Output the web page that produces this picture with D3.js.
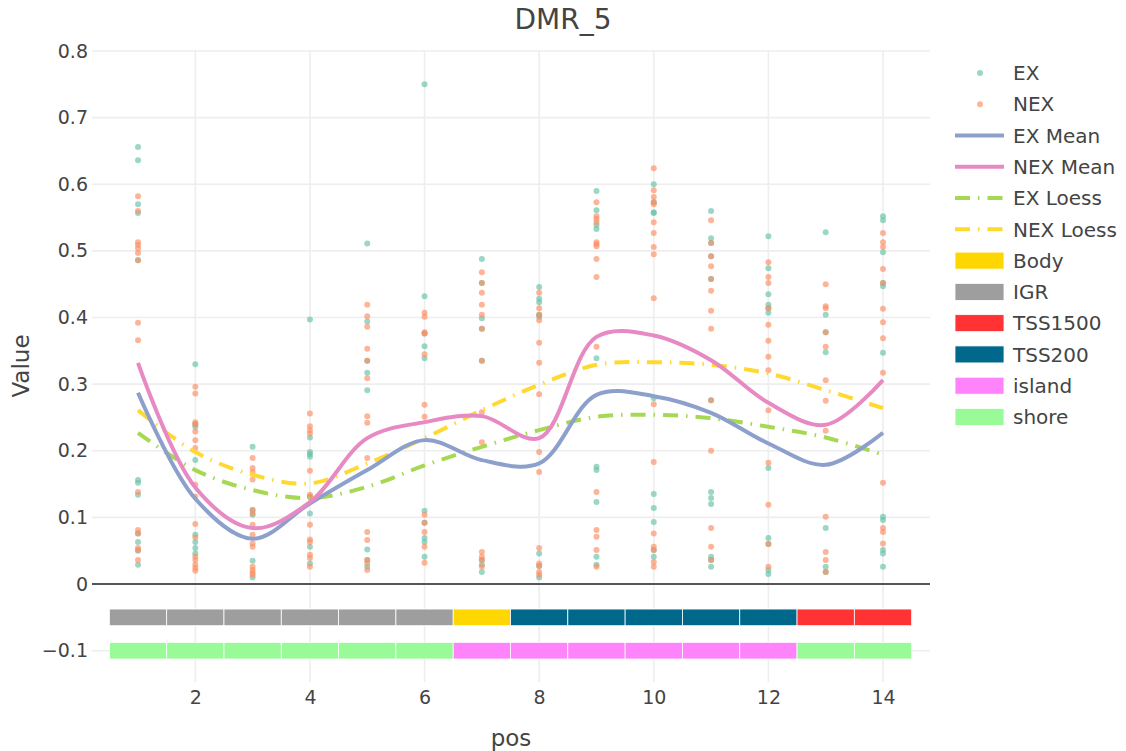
<!DOCTYPE html>
<html>
<head>
<meta charset="utf-8">
<script src="https://cdn.jsdelivr.net/npm/d3@7"></script>
<style>
  body { margin: 0; background: #fff; }
  text { font-family: "DejaVu Sans", Verdana, sans-serif; fill: #444; }
</style>
</head>
<body>
<div id="chart"></div>
<script>
var positions = [1, 2, 3, 4, 5, 6, 7, 8, 9, 10, 11, 12, 13, 14];

// sample values per position
var exValues = [
  [0.656, 0.636, 0.570, 0.557, 0.486, 0.156, 0.152, 0.134, 0.076, 0.063, 0.050, 0.029],
  [0.330, 0.240, 0.236, 0.186, 0.074, 0.063, 0.054, 0.046],
  [0.206, 0.111, 0.104, 0.035, 0.010],
  [0.397, 0.220, 0.198, 0.195, 0.191, 0.131, 0.106, 0.056, 0.031],
  [0.511, 0.394, 0.335, 0.317, 0.291, 0.052, 0.036, 0.026],
  [0.750, 0.432, 0.376, 0.357, 0.339, 0.110, 0.092, 0.069, 0.063, 0.041],
  [0.488, 0.452, 0.399, 0.383, 0.335, 0.036, 0.029, 0.018],
  [0.446, 0.428, 0.423, 0.404, 0.401, 0.046, 0.027, 0.010],
  [0.590, 0.561, 0.539, 0.533, 0.339, 0.176, 0.171, 0.123, 0.041, 0.029],
  [0.600, 0.573, 0.558, 0.557, 0.279, 0.135, 0.114, 0.093, 0.051, 0.041],
  [0.560, 0.519, 0.512, 0.492, 0.458, 0.276, 0.138, 0.129, 0.120, 0.041, 0.036, 0.026],
  [0.522, 0.474, 0.435, 0.419, 0.414, 0.407, 0.174, 0.069, 0.060, 0.021, 0.015],
  [0.528, 0.404, 0.378, 0.348, 0.084, 0.026, 0.018],
  [0.552, 0.546, 0.498, 0.452, 0.447, 0.347, 0.101, 0.096, 0.051, 0.046, 0.026]
];
var nexValues = [
  [0.582, 0.560, 0.513, 0.509, 0.504, 0.497, 0.486, 0.392, 0.366, 0.138, 0.081, 0.076, 0.054, 0.051, 0.036],
  [0.296, 0.286, 0.243, 0.240, 0.229, 0.216, 0.204, 0.149, 0.131, 0.090, 0.070, 0.041, 0.036, 0.029, 0.024, 0.020],
  [0.189, 0.174, 0.168, 0.157, 0.111, 0.106, 0.089, 0.074, 0.061, 0.056, 0.026, 0.021, 0.017, 0.014],
  [0.256, 0.237, 0.231, 0.226, 0.170, 0.134, 0.131, 0.089, 0.067, 0.063, 0.044, 0.039, 0.026],
  [0.419, 0.402, 0.386, 0.353, 0.335, 0.309, 0.252, 0.242, 0.189, 0.078, 0.066, 0.036, 0.031, 0.021],
  [0.407, 0.401, 0.378, 0.376, 0.345, 0.269, 0.251, 0.104, 0.092, 0.078, 0.056, 0.032],
  [0.468, 0.452, 0.437, 0.419, 0.404, 0.383, 0.335, 0.258, 0.213, 0.048, 0.041, 0.036, 0.026],
  [0.437, 0.414, 0.404, 0.396, 0.362, 0.332, 0.285, 0.198, 0.168, 0.054, 0.031, 0.027, 0.018, 0.014],
  [0.573, 0.552, 0.548, 0.543, 0.513, 0.510, 0.507, 0.488, 0.461, 0.356, 0.138, 0.081, 0.071, 0.051, 0.026],
  [0.624, 0.591, 0.581, 0.573, 0.570, 0.543, 0.527, 0.506, 0.495, 0.429, 0.270, 0.183, 0.076, 0.056, 0.051, 0.033, 0.026],
  [0.546, 0.512, 0.492, 0.477, 0.458, 0.440, 0.410, 0.383, 0.276, 0.200, 0.084, 0.056, 0.036],
  [0.483, 0.461, 0.452, 0.414, 0.389, 0.365, 0.341, 0.321, 0.261, 0.182, 0.119, 0.060, 0.026],
  [0.450, 0.417, 0.414, 0.378, 0.356, 0.306, 0.275, 0.230, 0.101, 0.048, 0.036, 0.018],
  [0.527, 0.513, 0.506, 0.473, 0.452, 0.413, 0.393, 0.369, 0.317, 0.152, 0.084, 0.078, 0.061]
];

var exMean = [0.287, 0.128, 0.068, 0.121, 0.171, 0.216, 0.186, 0.181, 0.284, 0.282, 0.257, 0.211, 0.179, 0.227];
var nexMean = [0.332, 0.145, 0.084, 0.123, 0.219, 0.243, 0.252, 0.219, 0.371, 0.373, 0.336, 0.272, 0.239, 0.306];
var exLoess = [0.227, 0.171, 0.141, 0.129, 0.146, 0.178, 0.206, 0.231, 0.251, 0.254, 0.249, 0.236, 0.220, 0.194];
var nexLoess = [0.261, 0.198, 0.164, 0.151, 0.181, 0.219, 0.261, 0.299, 0.329, 0.333, 0.329, 0.316, 0.291, 0.264];

var featureRow = ["IGR", "IGR", "IGR", "IGR", "IGR", "IGR", "Body", "TSS200", "TSS200", "TSS200", "TSS200", "TSS200", "TSS1500", "TSS1500"];
var islandRow = ["shore", "shore", "shore", "shore", "shore", "shore", "island", "island", "island", "island", "island", "island", "shore", "shore"];
var rowLevels = [-0.05, -0.1];

var yTicks = [-0.1, 0, 0.1, 0.2, 0.3, 0.4, 0.5, 0.6, 0.7, 0.8];
var xTicks = [2, 4, 6, 8, 10, 12, 14];

var annoColor = {Body: "#ffd700", IGR: "#9e9e9e", TSS1500: "#ff3333", TSS200: "#00688b", island: "#ff83fa", shore: "#98fb98"};
var legendItems = [
  {name: "EX", kind: "marker", color: "#66c2a5"},
  {name: "NEX", kind: "marker", color: "#fc8d62"},
  {name: "EX Mean", kind: "line", color: "#8da0cb"},
  {name: "NEX Mean", kind: "line", color: "#e78ac3"},
  {name: "EX Loess", kind: "dash", color: "#a6d854"},
  {name: "NEX Loess", kind: "dash", color: "#ffd92f"},
  {name: "Body", kind: "rect", color: annoColor.Body},
  {name: "IGR", kind: "rect", color: annoColor.IGR},
  {name: "TSS1500", kind: "rect", color: annoColor.TSS1500},
  {name: "TSS200", kind: "rect", color: annoColor.TSS200},
  {name: "island", kind: "rect", color: annoColor.island},
  {name: "shore", kind: "rect", color: annoColor.shore}
];

var width = 1126, height = 751;
var plotLeft = 92, plotRight = 930, plotTop = 50, plotBottom = 682;
var dashPattern = "15,8,1.5,8";

var svg = d3.select("#chart").append("svg")
    .attr("width", width)
    .attr("height", height);

var x = d3.scaleLinear().domain([0.197, 14.82]).range([plotLeft, plotRight]);
var y = d3.scaleLinear().domain([-0.147, 0.8015]).range([plotBottom, plotTop]);

svg.append("clipPath").attr("id", "plotclip")
    .append("rect")
    .attr("x", plotLeft).attr("y", plotTop)
    .attr("width", plotRight - plotLeft).attr("height", plotBottom - plotTop);

// grid
svg.append("g").selectAll("line")
    .data(yTicks.filter(function(d){ return d !== 0; }))
    .enter().append("line")
    .attr("x1", plotLeft).attr("x2", plotRight)
    .attr("y1", function(d){ return y(d); })
    .attr("y2", function(d){ return y(d); })
    .attr("stroke", "#eee")
    .attr("stroke-width", 1.6);

svg.append("g").selectAll("line")
    .data(xTicks)
    .enter().append("line")
    .attr("x1", function(d){ return x(d); })
    .attr("x2", function(d){ return x(d); })
    .attr("y1", plotTop).attr("y2", plotBottom)
    .attr("stroke", "#eee")
    .attr("stroke-width", 1.6);

svg.append("line")
    .attr("x1", plotLeft).attr("x2", plotRight)
    .attr("y1", y(0)).attr("y2", y(0))
    .attr("stroke", "#555")
    .attr("stroke-width", 2);

// annotation rows
var rows = [featureRow, islandRow];
rows.forEach(function(row, r){
    svg.append("g").selectAll("rect")
        .data(row)
        .enter().append("rect")
        .attr("x", function(d, i){ return x(positions[i] - 0.5); })
        .attr("width", function(d, i){ return x(positions[i] + 0.5) - x(positions[i] - 0.5); })
        .attr("y", y(rowLevels[r] + 0.0125))
        .attr("height", y(rowLevels[r] - 0.0125) - y(rowLevels[r] + 0.0125))
        .attr("fill", function(d){ return annoColor[d]; })
        .attr("stroke", "#fff")
        .attr("stroke-width", 0.8);
});

var plot = svg.append("g").attr("clip-path", "url(#plotclip)");

// scatter
function flatten(vals){
    var out = [];
    vals.forEach(function(arr, i){
        arr.forEach(function(v){ out.push([positions[i], v]); });
    });
    return out;
}

plot.append("g").selectAll("circle")
    .data(flatten(exValues))
    .enter().append("circle")
    .attr("cx", function(d){ return x(d[0]); })
    .attr("cy", function(d){ return y(d[1]); })
    .attr("r", 3)
    .attr("fill", "#66c2a5")
    .attr("opacity", 0.65);

plot.append("g").selectAll("circle")
    .data(flatten(nexValues))
    .enter().append("circle")
    .attr("cx", function(d){ return x(d[0]); })
    .attr("cy", function(d){ return y(d[1]); })
    .attr("r", 3)
    .attr("fill", "#fc8d62")
    .attr("opacity", 0.65);

// lines
var smooth = d3.line()
    .x(function(d, i){ return x(positions[i]); })
    .y(function(d){ return y(d); })
    .curve(d3.curveCatmullRom.alpha(0.5));

var series = [
    {vals: exLoess, color: "#a6d854", dash: true},
    {vals: nexLoess, color: "#ffd92f", dash: true},
    {vals: exMean, color: "#8da0cb", dash: false},
    {vals: nexMean, color: "#e78ac3", dash: false}
];
series.forEach(function(s){
    plot.append("path")
        .attr("d", smooth(s.vals))
        .attr("fill", "none")
        .attr("stroke", s.color)
        .attr("stroke-width", 4)
        .attr("stroke-dasharray", s.dash ? dashPattern : null);
});

// axes
var fmt = d3.format("~g");
var yAxis = svg.append("g")
    .attr("transform", "translate(" + plotLeft + ",0)")
    .call(d3.axisLeft(y).tickValues(yTicks).tickSize(0).tickPadding(4).tickFormat(fmt));
var xAxis = svg.append("g")
    .attr("transform", "translate(0," + plotBottom + ")")
    .call(d3.axisBottom(x).tickValues(xTicks).tickSize(0).tickPadding(9));
[yAxis, xAxis].forEach(function(a){
    a.select(".domain").remove();
    a.attr("font-family", null);
    a.selectAll("text").attr("font-size", "19px").style("fill", "#444");
});

svg.append("text")
    .attr("x", width / 2)
    .attr("y", 29)
    .attr("text-anchor", "middle")
    .attr("font-size", "28px")
    .text("DMR_5");

svg.append("text")
    .attr("x", (plotLeft + plotRight) / 2)
    .attr("y", 746)
    .attr("text-anchor", "middle")
    .attr("font-size", "23px")
    .text("pos");

svg.append("text")
    .attr("transform", "translate(29," + ((plotTop + plotBottom) / 2) + ") rotate(-90)")
    .attr("text-anchor", "middle")
    .attr("font-size", "23px")
    .text("Value");

// legend
var legend = svg.append("g").attr("transform", "translate(955,73)");
var item = legend.selectAll("g")
    .data(legendItems)
    .enter().append("g")
    .attr("transform", function(d, i){ return "translate(0," + (i * 31.27) + ")"; });

item.filter(function(d){ return d.kind === "marker"; })
    .append("circle")
    .attr("cx", 25).attr("cy", 0).attr("r", 3)
    .attr("fill", function(d){ return d.color; })
    .attr("opacity", 0.65);

item.filter(function(d){ return d.kind === "line" || d.kind === "dash"; })
    .append("line")
    .attr("x1", 0).attr("x2", 49)
    .attr("y1", 0).attr("y2", 0)
    .attr("stroke", function(d){ return d.color; })
    .attr("stroke-width", 4)
    .attr("stroke-dasharray", function(d){ return d.kind === "dash" ? dashPattern : null; });

item.filter(function(d){ return d.kind === "rect"; })
    .append("rect")
    .attr("x", 0).attr("y", -8.5)
    .attr("width", 49).attr("height", 17)
    .attr("fill", function(d){ return d.color; })
    .attr("stroke", "#fff")
    .attr("stroke-width", 0.8);

item.append("text")
    .attr("x", 58)
    .attr("y", 0)
    .attr("dy", "0.36em")
    .attr("font-size", "20px")
    .text(function(d){ return d.name; });
</script>
</body>
</html>
